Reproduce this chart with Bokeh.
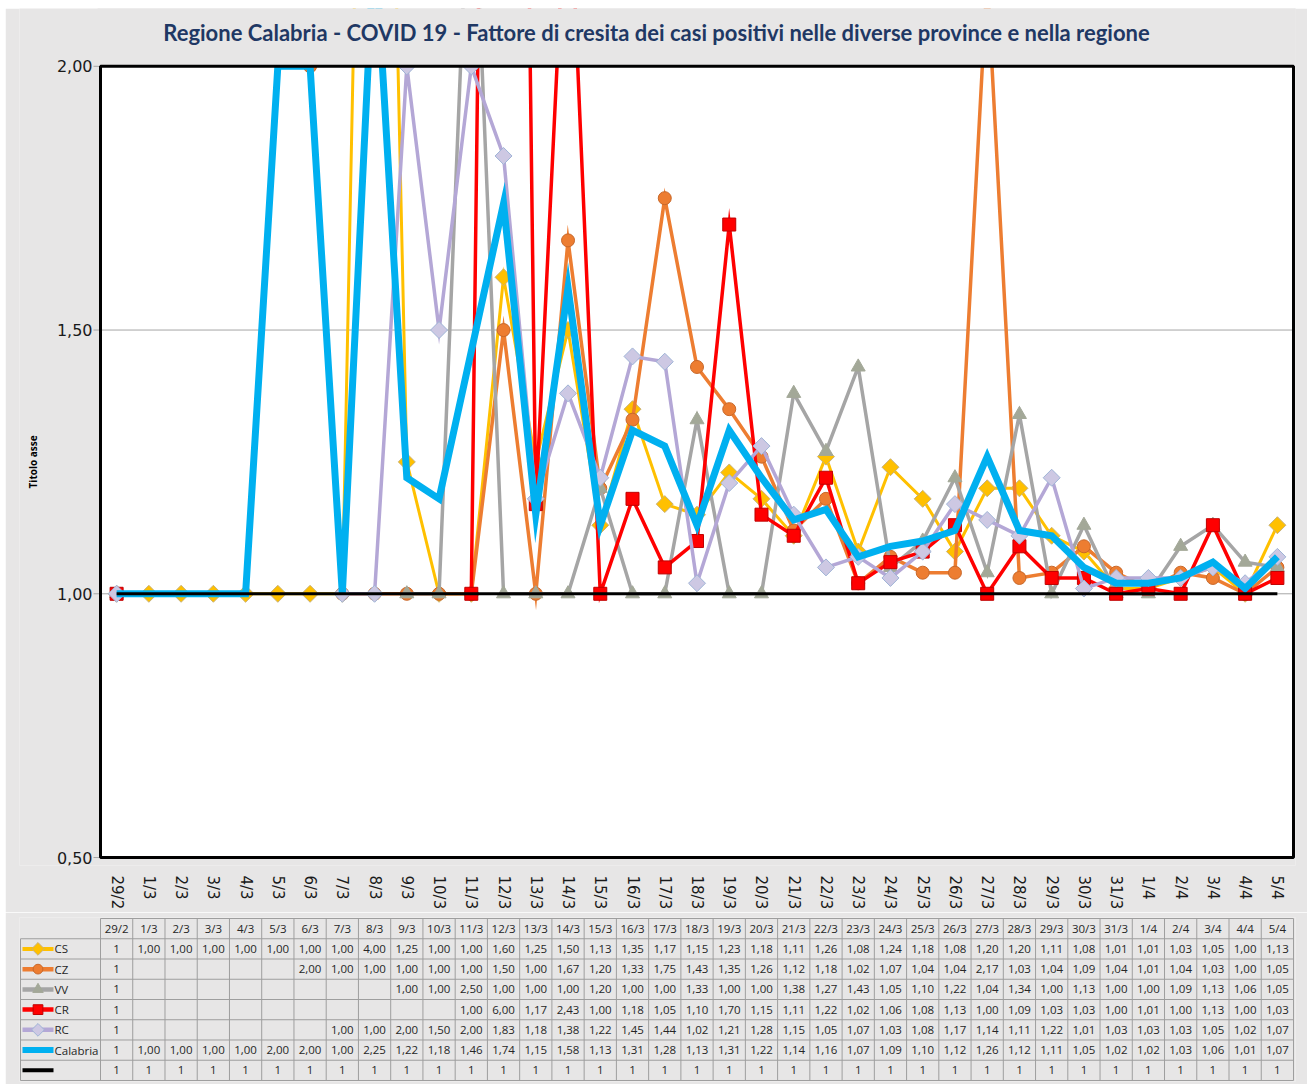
import math
from bokeh.plotting import figure
from bokeh.layouts import column
from bokeh.models import Range1d, FixedTicker, ColumnDataSource
from bokeh.embed import file_html
from bokeh.resources import INLINE
from bokeh.core.properties import value

N = None
dates = ["29/2", "1/3", "2/3", "3/3", "4/3", "5/3", "6/3", "7/3", "8/3", "9/3", "10/3",
         "11/3", "12/3", "13/3", "14/3", "15/3", "16/3", "17/3", "18/3", "19/3", "20/3",
         "21/3", "22/3", "23/3", "24/3", "25/3", "26/3", "27/3", "28/3", "29/3", "30/3",
         "31/3", "1/4", "2/4", "3/4", "4/4", "5/4"]

cs = [1, 1.00, 1.00, 1.00, 1.00, 1.00, 1.00, 1.00, 4.00, 1.25, 1.00,
      1.00, 1.60, 1.25, 1.50, 1.13, 1.35, 1.17, 1.15, 1.23, 1.18, 1.11, 1.26, 1.08,
      1.24, 1.18, 1.08, 1.20, 1.20, 1.11, 1.08, 1.01, 1.01, 1.03, 1.05, 1.00, 1.13]
cz = [1, N, N, N, N, N, 2.00, 1.00, 1.00, 1.00, 1.00,
      1.00, 1.50, 1.00, 1.67, 1.20, 1.33, 1.75, 1.43, 1.35, 1.26, 1.12, 1.18, 1.02,
      1.07, 1.04, 1.04, 2.17, 1.03, 1.04, 1.09, 1.04, 1.01, 1.04, 1.03, 1.00, 1.05]
vv = [1, N, N, N, N, N, N, N, N, 1.00, 1.00,
      2.50, 1.00, 1.00, 1.00, 1.20, 1.00, 1.00, 1.33, 1.00, 1.00, 1.38, 1.27, 1.43,
      1.05, 1.10, 1.22, 1.04, 1.34, 1.00, 1.13, 1.00, 1.00, 1.09, 1.13, 1.06, 1.05]
cr = [1, N, N, N, N, N, N, N, N, N, N,
      1.00, 6.00, 1.17, 2.43, 1.00, 1.18, 1.05, 1.10, 1.70, 1.15, 1.11, 1.22, 1.02,
      1.06, 1.08, 1.13, 1.00, 1.09, 1.03, 1.03, 1.00, 1.01, 1.00, 1.13, 1.00, 1.03]
rc = [1, N, N, N, N, N, N, 1.00, 1.00, 2.00, 1.50,
      2.00, 1.83, 1.18, 1.38, 1.22, 1.45, 1.44, 1.02, 1.21, 1.28, 1.15, 1.05, 1.07,
      1.03, 1.08, 1.17, 1.14, 1.11, 1.22, 1.01, 1.03, 1.03, 1.03, 1.05, 1.02, 1.07]
calabria = [1, 1.00, 1.00, 1.00, 1.00, 2.00, 2.00, 1.00, 2.25, 1.22, 1.18,
            1.46, 1.74, 1.15, 1.58, 1.13, 1.31, 1.28, 1.13, 1.31, 1.22, 1.14, 1.16, 1.07,
            1.09, 1.10, 1.12, 1.26, 1.12, 1.11, 1.05, 1.02, 1.02, 1.03, 1.06, 1.01, 1.07]
baseline = [1, 1, 1, 1, 1, 1, 1, 1, 1, 1, 1, 1, 1, 1, 1, 1, 1, 1, 1,
            1, 1, 1, 1, 1, 1, 1, 1, 1, 1, 1, 1, 1, 1, 1, 1, 1, 1]

names = ["CS", "CZ", "VV", "CR", "RC", "Calabria", ""]
title_text = "Regione Calabria - COVID 19 - Fattore di cresita dei casi positivi nelle diverse province e nella regione"
y_ticks = [0.5, 1.0, 1.5, 2.0]
y_tick_labels = ["0,50", "1,00", "1,50", "2,00"]
y_title = "Titolo asse"

BG = "#e7e6e6"
FONT = "Open Sans"

# series styles: (data, line color, line width, marker, fill, outline, size, angle)
styles = [
    (cs, "#FFC000", 3, "square", "#FFC000", "#c8b27a", 12, math.pi / 4),
    (cz, "#ED7D31", 3.5, "circle", "#ED7D31", "#c8682a", 13, 0),
    (vv, "#A5A5A5", 3.5, "triangle", "#a3a898", "#a3a898", 14, 0),
    (cr, "#FF0000", 3.5, "square", "#FF0000", "#c00000", 13, 0),
    (rc, "#B4A7D6", 3.5, "square", "#cdc8e3", "#9fb4d6", 12, math.pi / 4),
    (calabria, "#00B0F0", 7, None, None, None, 0, 0),
    (baseline, "#000000", 3, None, None, None, 0, 0),
]

def fx(v):
    return float("nan") if v is None else v

# ---------- geometry (pixels) ----------
W = 1302                      # figure width (page x 5..1307)
ncol = len(dates)
ppu = 1193 / ncol             # pixels per category
x_lo, x_hi = -0.5, ncol - 0.5 # plot area in data units
xs = x_lo - 81 / ppu          # frame left (page x 19)
xe = x_hi + 2 / ppu           # frame right (page x 1295)
fw = int(round((xe - xs) * ppu))
MB_L = 14
MB_R = W - MB_L - fw

y_lo, y_hi = 0.5, 2.0
ppy = 794 / (y_hi - y_lo)      # plot area: page y 66..860
y_top = y_hi + 58 / ppy        # frame top at page y 8
y_bot = y_lo - 8 / ppy         # frame bottom at page y 868
FH = 860

x_idx = list(range(ncol))

p = figure(width=W, height=FH + 44, x_range=Range1d(xs, xe), y_range=Range1d(y_bot, y_top),
           output_backend="svg", toolbar_location=None,
           min_border_left=MB_L, min_border_right=MB_R, min_border_top=0, min_border_bottom=44)
p.background_fill_color = BG
p.border_fill_color = BG
p.outline_line_color = None

p.xaxis.ticker = FixedTicker(ticks=x_idx)
p.xaxis.major_label_overrides = {i: d for i, d in enumerate(dates)}
p.xaxis.major_label_orientation = -math.pi / 2
p.xaxis.major_label_text_font = "DejaVu Sans"
p.xaxis.major_label_text_font_size = "15px"
p.xaxis.major_label_text_color = "#1a1a1a"
p.xaxis.major_label_standoff = 4
p.xaxis.axis_line_color = None
p.xaxis.major_tick_line_color = None
p.xaxis.minor_tick_line_color = None
p.yaxis.visible = False
p.grid.visible = False

# white plot area
p.quad(left=[x_lo], right=[x_hi], bottom=[y_lo], top=[y_hi], fill_color="white", line_color=None)
# gridlines and tick stubs
p.segment(x0=[x_lo] * len(y_ticks), x1=[x_hi] * len(y_ticks), y0=y_ticks, y1=y_ticks,
          line_color="#a6a6a6", line_width=1)
p.segment(x0=[x_lo - 7 / ppu] * len(y_ticks), x1=[x_lo] * len(y_ticks), y0=y_ticks, y1=y_ticks,
          line_color="#a6a6a6", line_width=1)
# y tick labels and axis title
p.text(x=[x_lo - 8 / ppu] * len(y_ticks), y=y_ticks, text=y_tick_labels, text_align="right",
       text_baseline="middle", text_font=value("DejaVu Sans"), text_font_size="16px",
       text_color="#1a1a1a")
p.text(x=[xs + 13 / ppu], y=[(y_lo + y_hi) / 2], text=[y_title], angle=math.pi / 2,
       text_align="center", text_baseline="middle", text_font=value("Open Sans"),
       text_font_size="10px", text_font_style="bold", text_color="#000000")

for data, lc, lw, mk, fill, outl, sz, ang in styles:
    src = ColumnDataSource(dict(x=x_idx, y=[fx(v) for v in data]))
    p.line("x", "y", source=src, line_color=lc, line_width=lw, line_join="miter")
    if mk:
        p.scatter("x", "y", source=src, marker=mk, size=sz, angle=ang, fill_color=fill,
                  line_color=outl, line_width=1)

# hide what runs above the value axis maximum (Excel clips at the plot area)
p.quad(left=[x_lo - 2 / ppu], right=[x_hi + 2 / ppu], bottom=[y_hi + 1.5 / ppy],
       top=[y_top + 200 / ppy], fill_color=BG, line_color=BG, line_width=2)
# plot area border
p.quad(left=[x_lo], right=[x_hi], bottom=[y_lo], top=[y_hi], fill_color=None,
       line_color="black", line_width=3)

# title
p.text(x=[xs + (656 - 19) / ppu], y=[y_hi + (66 - 32) / ppy], text=[title_text],
       text_align="center", text_baseline="middle", text_font=value("Lato"),
       text_font_size="22px", text_font_style="bold", text_color="#1f3864")

# ---------------- data table ----------------
nrows = len(names) + 1
row_h = 20.3
ys, ye = nrows - 0.5 + 0.05, -0.55
fh = int(round((ys - ye) * row_h))

t = figure(width=W, height=fh + 5 + 3, x_range=Range1d(xs, xe), y_range=Range1d(ys, ye),
           output_backend="svg", toolbar_location=None,
           min_border_left=MB_L, min_border_right=MB_R, min_border_top=5,
           min_border_bottom=3)
t.axis.visible = False
t.grid.visible = False
t.outline_line_color = None
t.background_fill_color = BG
t.border_fill_color = BG

lab_left = x_lo - 80 / ppu
GRID = "#9e9e9e"
hx0, hx1, hy = [], [], []
for r in range(nrows + 1):
    hy.append(r - 0.5)
    hx0.append(x_lo if r == 0 else lab_left)
    hx1.append(x_hi)
t.segment(x0=hx0, y0=hy, x1=hx1, y1=hy, line_color=GRID, line_width=1)
vx, vy0 = [], []
for c in range(ncol + 1):
    vx.append(c - 0.5)
    vy0.append(-0.5)
vx.append(lab_left)
vy0.append(0.5)
t.segment(x0=vx, y0=vy0, x1=vx, y1=[nrows - 0.5] * len(vx), line_color=GRID, line_width=1)

TFS = "11.5px"
t.text(x=x_idx, y=[0] * ncol, text=dates, text_align="center", text_baseline="middle",
       text_font=value(FONT), text_font_size=TFS, text_color="#262626")

def fmt(v):
    if v is None:
        return ""
    if isinstance(v, int):
        return str(v)
    return f"{v:.2f}".replace(".", ",")

tx, ty, tt = [], [], []
for r, st in enumerate(styles):
    for i, v in enumerate(st[0]):
        tx.append(i)
        ty.append(r + 1)
        tt.append(fmt(v))
t.text(x=tx, y=ty, text=tt, text_align="center", text_baseline="middle",
       text_font=value(FONT), text_font_size=TFS, text_color="#262626")

k0 = lab_left + 2 / ppu
k1 = lab_left + 33 / ppu
km = (k0 + k1) / 2
for r, (data, lc, lw, mk, fill, outl, sz, ang) in enumerate(styles):
    yy = r + 1
    t.line([k0, k1], [yy, yy], line_color=lc, line_width=min(lw + 1, 6))
    if mk:
        t.scatter([km], [yy], marker=mk, size=sz * 0.75, angle=ang, fill_color=fill,
                  line_color=outl)
t.text(x=[k1 + 1 / ppu] * len(names), y=[r + 1 for r in range(len(names))], text=names,
       text_align="left", text_baseline="middle", text_font=value(FONT),
       text_font_size=TFS, text_color="#262626")

layout = column(p, t, spacing=0, margin=(8, 0, 0, 5))
open("out.html", "w").write(file_html(layout, INLINE))
